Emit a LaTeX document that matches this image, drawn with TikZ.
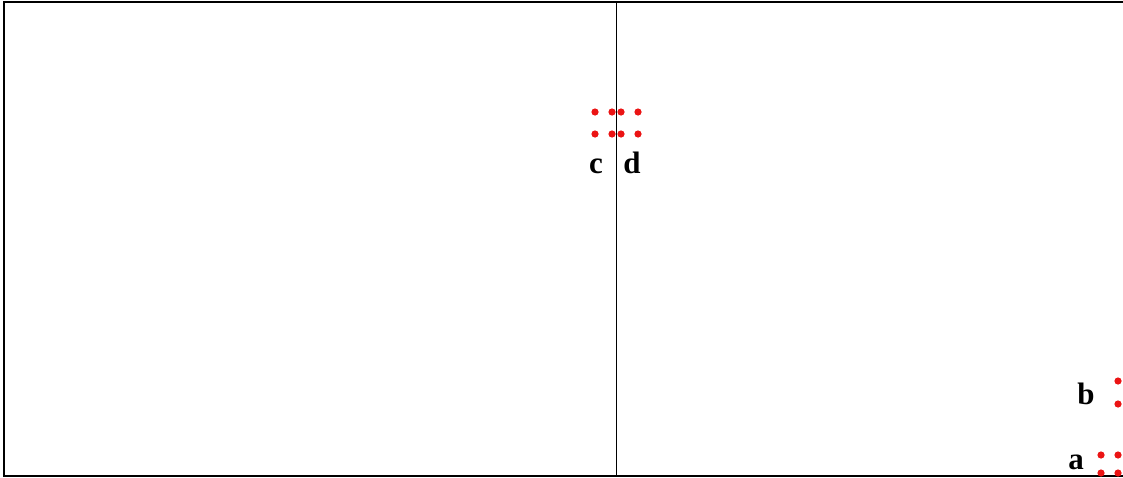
\documentclass[tikz,border=0pt]{standalone}
\usepackage{fontspec}
\setmainfont{Liberation Serif}
\usetikzlibrary{positioning}
\definecolor{dotred}{RGB}{235,20,20}

\begin{document}
\begin{tikzpicture}[x=1pt, y=-1pt,
    lbl/.style={font=\fontsize{31}{31}\selectfont\bfseries, inner sep=0pt},
    pt/.style={fill=dotred}]
    % Fenster festlegen
    \useasboundingbox (0,0) rectangle (1123,477);

    % Rahmen (rechter Rand abgeschnitten)
    \draw[line width=1.1pt] (1123,2) -- (4,2) -- (4,476) -- (1123,476);
    % Trennlinie in der Mitte
    \draw[line width=0.8pt] (616,2) -- (616,476);

    % Punktgruppe c
    \foreach \x in {595,612} \foreach \y in {112,134} \fill[pt] (\x,\y) circle (3.6);
    % Punktgruppe d
    \foreach \x in {621,638} \foreach \y in {112,134} \fill[pt] (\x,\y) circle (3.6);
    % Punktgruppe b
    \foreach \y in {381,404} \fill[pt] (1118,\y) circle (3.6);
    % Punktgruppe a
    \foreach \x in {1101,1118} \foreach \y in {455,473} \fill[pt] (\x,\y) circle (3.6);

    % Beschriftungen
    \node[lbl] (c) at (596,166) {c};
    \node[lbl] (d) at (632,163) {d};
    \node[lbl] (b) at (1086,394) {b};
    \node[lbl] (a) at (1076,462) {a};
\end{tikzpicture}
\end{document}
